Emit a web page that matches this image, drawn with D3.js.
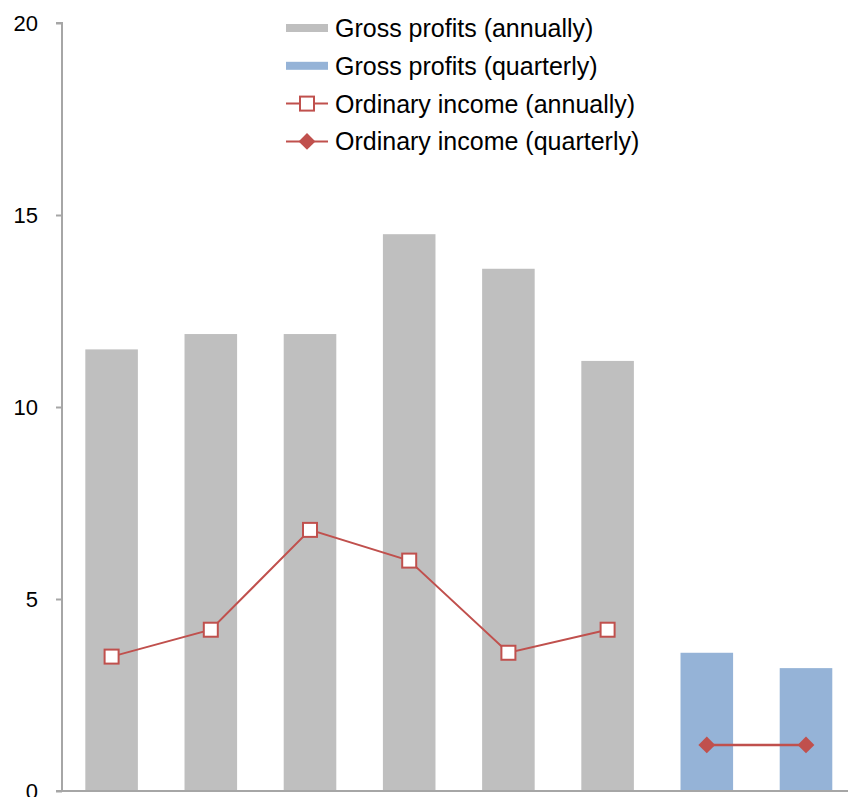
<!DOCTYPE html>
<html>
<head>
<meta charset="utf-8">
<script src="https://d3js.org/d3.v7.min.js"></script>
<style>
body { margin: 0; background: #fff; }
text { font-family: "Liberation Sans", Arial, sans-serif; }
</style>
</head>
<body>
<svg id="chart" width="848" height="797"></svg>
<script>
var categories = ["A1", "A2", "A3", "A4", "A5", "A6", "Q1", "Q2"];
var grossAnnual = [11.5, 11.9, 11.9, 14.5, 13.6, 11.2, null, null];
var grossQuarterly = [null, null, null, null, null, null, 3.6, 3.2];
var ordinaryAnnual = [3.5, 4.2, 6.8, 6.0, 3.6, 4.2, null, null];
var ordinaryQuarterly = [null, null, null, null, null, null, 1.2, 1.2];
var yTicks = [0, 5, 10, 15, 20];
var legendLabels = ["Gross profits (annually)", "Gross profits (quarterly)",
	"Ordinary income (annually)", "Ordinary income (quarterly)"];

var gray = "#bfbfbf", blue = "#95b3d7", red = "#c0504d", axisColor = "#a6a6a6";

var svg = d3.select("#chart");

var x = d3.scaleBand().domain(categories).range([62, 62 + 8 * 99.2]).paddingInner(0.47).paddingOuter(0.235);
var y = d3.scaleLinear().domain([0, 20]).range([791, 23]);

function barData(vals){
	var out = [];
	for (var i = 0; i < vals.length; i++){
		if (vals[i] != null) out.push({cat: categories[i], v: vals[i]});
	}
	return out;
}

// bars
svg.selectAll(".barA").data(barData(grossAnnual)).enter().append("rect")
	.attr("x", function(d){ return x(d.cat); })
	.attr("y", function(d){ return y(d.v); })
	.attr("width", x.bandwidth())
	.attr("height", function(d){ return y(0) - y(d.v); })
	.attr("fill", gray);

svg.selectAll(".barQ").data(barData(grossQuarterly)).enter().append("rect")
	.attr("x", function(d){ return x(d.cat); })
	.attr("y", function(d){ return y(d.v); })
	.attr("width", x.bandwidth())
	.attr("height", function(d){ return y(0) - y(d.v); })
	.attr("fill", blue);

// axes
var yAxis = svg.append("g")
	.attr("transform", "translate(62,0)")
	.call(d3.axisLeft(y).tickValues(yTicks).tickSize(6).tickPadding(18).tickFormat(d3.format("d")));
yAxis.select(".domain").attr("stroke", axisColor).attr("stroke-width", 2)
	.attr("d", "M-6," + y(20) + "H0V" + y(0));
yAxis.selectAll(".tick line").attr("stroke", axisColor).attr("stroke-width", 2);
yAxis.selectAll(".tick text").attr("fill", "#000").style("font-size", "22px")
	.attr("font-family", "Liberation Sans, Arial, sans-serif").attr("dy", "0.36em");

svg.append("line")
	.attr("x1", 56).attr("x2", 848)
	.attr("y1", y(0)).attr("y2", y(0))
	.attr("stroke", axisColor).attr("stroke-width", 2);

// lines
var line = d3.line()
	.x(function(d){ return x(d.cat) + x.bandwidth() / 2; })
	.y(function(d){ return y(d.v); });

var annualPts = barData(ordinaryAnnual);
var quarterPts = barData(ordinaryQuarterly);

svg.append("path").datum(annualPts).attr("d", line)
	.attr("fill", "none").attr("stroke", red).attr("stroke-width", 2);
svg.append("path").datum(quarterPts).attr("d", line)
	.attr("fill", "none").attr("stroke", red).attr("stroke-width", 2.5);

svg.selectAll(".sq").data(annualPts).enter().append("rect")
	.attr("x", function(d){ return x(d.cat) + x.bandwidth() / 2 - 7; })
	.attr("y", function(d){ return y(d.v) - 7; })
	.attr("width", 14).attr("height", 14)
	.attr("fill", "#fff").attr("stroke", red).attr("stroke-width", 2);

var diamond = d3.symbol().type(d3.symbolDiamond2).size(180);
svg.selectAll(".dm").data(quarterPts).enter().append("path")
	.attr("d", diamond)
	.attr("transform", function(d){ return "translate(" + (x(d.cat) + x.bandwidth() / 2) + "," + y(d.v) + ")"; })
	.attr("fill", red);

// legend
var legend = svg.append("g").attr("transform", "translate(286,28)");
var rowH = 37.8;
legendLabels.forEach(function(label, i){
	var g = legend.append("g").attr("transform", "translate(0," + (i * rowH) + ")");
	if (i < 2){
		g.append("rect").attr("x", 0).attr("y", -4).attr("width", 42).attr("height", 8)
			.attr("fill", i == 0 ? gray : blue);
	} else {
		g.append("line").attr("x1", 0).attr("x2", 42).attr("y1", 0).attr("y2", 0)
			.attr("stroke", red).attr("stroke-width", 2);
		if (i == 2){
			g.append("rect").attr("x", 14).attr("y", -7).attr("width", 14).attr("height", 14)
				.attr("fill", "#fff").attr("stroke", red).attr("stroke-width", 2);
		} else {
			g.append("path").attr("d", diamond).attr("transform", "translate(21,0)").attr("fill", red);
		}
	}
	g.append("text").attr("x", 49).attr("y", 0).attr("dy", "0.36em")
		.style("font-size", "25px").attr("fill", "#000").text(label);
});
</script>
</body>
</html>
